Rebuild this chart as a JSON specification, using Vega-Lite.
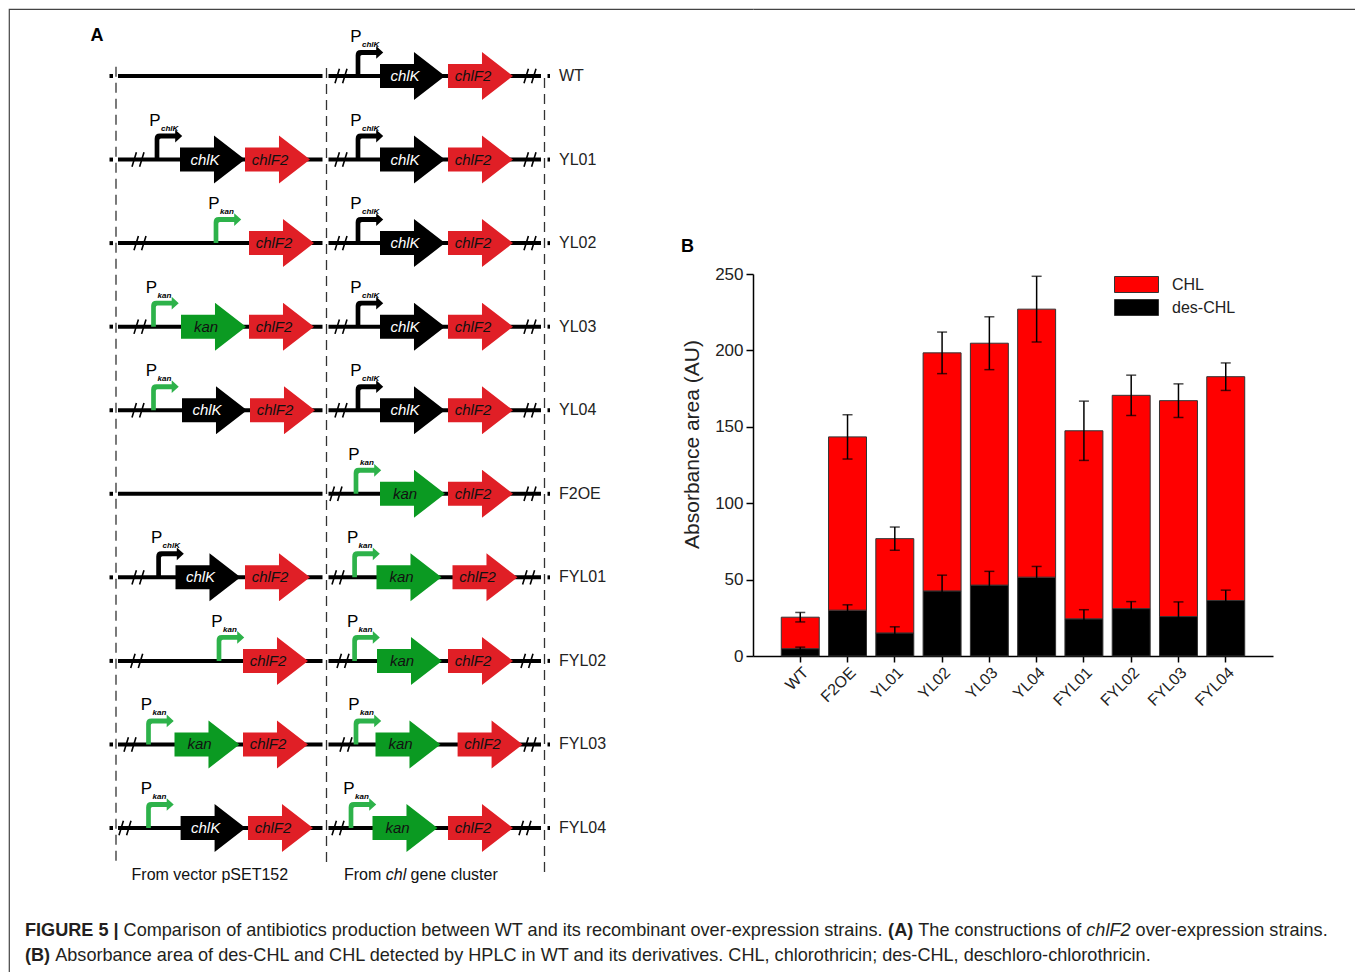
{
  "$schema": "https://vega.github.io/schema/vega-lite/v6.json",
  "padding": {"left": 8, "top": 8, "right": 0, "bottom": 0},
  "autosize": {"type": "pad"},
  "background": "white",
  "config": {"font": "Liberation Sans", "view": {"stroke": null}},
  "bounds": "flush",
  "spacing": 0,
  "datasets": {
    "caption": [
      {"row": 10.232, "x": 16, "t": "FIGURE 5 |", "s": "b"},
      {"row": 10.232, "x": 114.6, "t": "Comparison of antibiotics production between WT and its recombinant over-expression strains.", "s": "n"},
      {"row": 10.232, "x": 879.1, "t": "(A)", "s": "b"},
      {"row": 10.232, "x": 909.3, "t": "The constructions of", "s": "n"},
      {"row": 10.232, "x": 1077.3, "t": "chlF2", "s": "i"},
      {"row": 10.232, "x": 1126.6, "t": "over-expression strains.", "s": "n"},
      {"row": 10.531, "x": 16, "t": "(B)", "s": "b"},
      {"row": 10.531, "x": 46.2, "t": "Absorbance area of des-CHL and CHL detected by HPLC in WT and its derivatives. CHL, chlorothricin; des-CHL, deschloro-chlorothricin.", "s": "n"}
    ],
    "promoters": [
      {"row": 0, "x": [349], "type": ["chlK"]},
      {"row": 1, "x": [148, 349], "type": ["chlK", "chlK"]},
      {"row": 2, "x": [207, 349], "type": ["kan", "chlK"]},
      {"row": 3, "x": [144.5, 349], "type": ["kan", "chlK"]},
      {"row": 4, "x": [144.5, 349], "type": ["kan", "chlK"]},
      {"row": 5, "x": [347], "type": ["kan"]},
      {"row": 6, "x": [149.6, 345.6], "type": ["chlK", "kan"]},
      {"row": 7, "x": [210, 345.6], "type": ["kan", "kan"]},
      {"row": 8, "x": [139.5, 347], "type": ["kan", "kan"]},
      {"row": 9, "x": [139.5, 342], "type": ["kan", "kan"]}
    ],
    "genes": [
      {"row": 0, "x": [371, 439], "gene": ["chlK", "chlF2"]},
      {"row": 1, "x": [171, 236, 371, 439], "gene": ["chlK", "chlF2", "chlK", "chlF2"]},
      {"row": 2, "x": [240, 371, 439], "gene": ["chlF2", "chlK", "chlF2"]},
      {"row": 3, "x": [172, 240, 371, 439], "gene": ["kan", "chlF2", "chlK", "chlF2"]},
      {"row": 4, "x": [173, 241, 371, 439], "gene": ["chlK", "chlF2", "chlK", "chlF2"]},
      {"row": 5, "x": [371, 439], "gene": ["kan", "chlF2"]},
      {"row": 6, "x": [166.5, 236, 367.5, 443.5], "gene": ["chlK", "chlF2", "kan", "chlF2"]},
      {"row": 7, "x": [234, 368, 439], "gene": ["chlF2", "kan", "chlF2"]},
      {"row": 8, "x": [165.5, 234, 366.5, 448.6], "gene": ["kan", "chlF2", "kan", "chlF2"]},
      {"row": 9, "x": [171.6, 239, 363.5, 439], "gene": ["chlK", "chlF2", "kan", "chlF2"]}
    ]
  },
  "hconcat": [
    {
      "width": 744,
      "height": 964,
      "view": {"stroke": "#444", "strokeWidth": 1.2, "strokeDash": [744, 1708, 964, 0]},
      "resolve": {"scale": {"fill": "independent", "color": "independent"}},
      "encoding": {
        "x": {"field": "x", "type": "quantitative", "scale": {"domain": [0, 744], "nice": false, "zero": false}, "axis": null},
        "y": {"field": "row", "type": "quantitative", "scale": {"domain": [-0.8018, 10.735], "nice": false, "zero": false, "reverse": true}, "axis": null}
      },
      "layer": [
        {
          "data": {"values": [
            {"x": 107, "row": -0.112, "row2": 9.442},
            {"x": 317.5, "row": -0.096, "row2": 9.419},
            {"x": 535.5, "row": 0.024, "row2": 9.587}
          ]},
          "mark": {"type": "rule", "stroke": "#333", "strokeWidth": 1.3, "strokeDash": [10, 6]},
          "encoding": {"y2": {"field": "row2"}}
        },
        {
          "data": {"values": [
            {"row": 0, "x": [100.5, 109, 319.5, 538.5], "x2": [104, 313.5, 532, 541]},
            {"row": 1, "x": [100.5, 109, 319.5, 538.5], "x2": [104, 313.5, 532, 541]},
            {"row": 2, "x": [100.5, 109, 319.5, 538.5], "x2": [104, 313.5, 532, 541]},
            {"row": 3, "x": [100.5, 109, 319.5, 538.5], "x2": [104, 313.5, 532, 541]},
            {"row": 4, "x": [100.5, 109, 319.5, 538.5], "x2": [104, 313.5, 532, 541]},
            {"row": 5, "x": [100.5, 109, 319.5, 538.5], "x2": [104, 313.5, 532, 541]},
            {"row": 6, "x": [100.5, 109, 319.5, 538.5], "x2": [104, 313.5, 532, 541]},
            {"row": 7, "x": [100.5, 109, 319.5, 538.5], "x2": [104, 313.5, 532, 541]},
            {"row": 8, "x": [100.5, 109, 319.5, 538.5], "x2": [104, 313.5, 532, 541]},
            {"row": 9, "x": [100.5, 109, 319.5, 538.5], "x2": [104, 313.5, 532, 541]}
          ]},
          "transform": [{"flatten": ["x", "x2"]}],
          "mark": {"type": "rule", "stroke": "#000", "strokeWidth": 4, "strokeCap": "butt"},
          "encoding": {"x2": {"field": "x2"}}
        },
        {
          "data": {"values": [
            {"row": 0, "x": [332, 521]},
            {"row": 1, "x": [129, 332, 521]},
            {"row": 2, "x": [131, 332, 521]},
            {"row": 3, "x": [131, 332, 521]},
            {"row": 4, "x": [129, 332, 521]},
            {"row": 5, "x": [327, 521]},
            {"row": 6, "x": [129, 329, 519.6]},
            {"row": 7, "x": [127.7, 334, 518]},
            {"row": 8, "x": [121, 337, 521]},
            {"row": 9, "x": [116, 329, 516]}
          ]},
          "transform": [{"flatten": ["x"]}],
          "mark": {"type": "point", "filled": false, "shape": "M-0.75,0.9L-0.2,-0.9M0.2,0.9L0.75,-0.9", "size": 256, "stroke": "#000", "strokeWidth": 1.6, "opacity": 1}
        },
        {
          "data": {"name": "promoters"},
          "transform": [{"flatten": ["x", "type"]}],
          "mark": {"type": "point", "filled": true, "shape": "M-0.09,0L-0.09,-0.8Q-0.09,-1 0.11,-1L0.7,-1L0.7,-1.15L0.97,-0.905L0.7,-0.66L0.7,-0.81L0.15,-0.81Q0.09,-0.81 0.09,-0.75L0.09,0Z", "size": 2704, "strokeWidth": 0, "opacity": 1},
          "encoding": {"fill": {"field": "type", "type": "nominal", "scale": {"domain": ["chlK", "kan"], "range": ["#000000", "#2db24a"]}, "legend": null}}
        },
        {
          "data": {"name": "promoters"},
          "transform": [{"flatten": ["x", "type"]}],
          "mark": {"type": "text", "text": "P", "fontSize": 17, "dx": -2, "dy": -39, "align": "center", "baseline": "middle", "color": "#000"}
        },
        {
          "data": {"name": "promoters"},
          "transform": [{"flatten": ["x", "type"]}],
          "mark": {"type": "text", "fontSize": 8, "fontStyle": "italic", "fontWeight": "bold", "dx": 4, "dy": -31, "align": "left", "baseline": "middle", "color": "#000"},
          "encoding": {"text": {"field": "type"}}
        },
        {
          "data": {"name": "genes"},
          "transform": [{"flatten": ["x", "gene"]}],
          "mark": {"type": "point", "filled": true, "shape": "M0,-0.25L0.708,-0.25L0.708,-0.5L1.354,0L0.708,0.5L0.708,0.25L0,0.25Z", "size": 9216, "strokeWidth": 0, "opacity": 1},
          "encoding": {"fill": {"field": "gene", "type": "nominal", "scale": {"domain": ["chlK", "chlF2", "kan"], "range": ["#000000", "#e01f26", "#0b9a22"]}, "legend": null}}
        },
        {
          "data": {"name": "genes"},
          "transform": [{"flatten": ["x", "gene"]}],
          "mark": {"type": "text", "fontSize": 15, "fontStyle": "italic", "dx": 25, "align": "center", "baseline": "middle"},
          "encoding": {
            "text": {"field": "gene"},
            "color": {"field": "gene", "type": "nominal", "scale": {"domain": ["chlK", "chlF2", "kan"], "range": ["#ffffff", "#111111", "#111111"]}, "legend": null}
          }
        },
        {
          "data": {"values": [
            {"row": 0, "x": 550, "label": "WT"},
            {"row": 1, "x": 550, "label": "YL01"},
            {"row": 2, "x": 550, "label": "YL02"},
            {"row": 3, "x": 550, "label": "YL03"},
            {"row": 4, "x": 550, "label": "YL04"},
            {"row": 5, "x": 550, "label": "F2OE"},
            {"row": 6, "x": 550, "label": "FYL01"},
            {"row": 7, "x": 550, "label": "FYL02"},
            {"row": 8, "x": 550, "label": "FYL03"},
            {"row": 9, "x": 550, "label": "FYL04"}
          ]},
          "mark": {"type": "text", "fontSize": 16, "align": "left", "baseline": "middle", "color": "#222"},
          "encoding": {"text": {"field": "label"}}
        },
        {
          "data": {"values": [{"row": -0.479, "x": 88, "label": "A"}]},
          "mark": {"type": "text", "fontSize": 18, "fontWeight": "bold", "align": "center", "baseline": "middle", "color": "#000"},
          "encoding": {"text": {"field": "label"}}
        },
        {
          "data": {"values": [
            {"row": 9.562, "x": 122.6, "label": "From vector pSET152"},
            {"row": 9.562, "x": 335, "label": "From"},
            {"row": 9.562, "x": 401.6, "label": "gene cluster"}
          ]},
          "mark": {"type": "text", "fontSize": 16, "align": "left", "baseline": "middle", "color": "#111"},
          "encoding": {"text": {"field": "label"}}
        },
        {
          "data": {"values": [{"row": 9.562, "x": 376.8, "label": "chl"}]},
          "mark": {"type": "text", "fontSize": 16, "fontStyle": "italic", "align": "left", "baseline": "middle", "color": "#111"},
          "encoding": {"text": {"field": "label"}}
        },
        {
          "data": {"name": "caption"},
          "transform": [{"filter": "datum.s === 'b'"}],
          "mark": {"type": "text", "fontSize": 18.1, "fontWeight": "bold", "align": "left", "baseline": "middle", "color": "#231f20"},
          "encoding": {"text": {"field": "t"}}
        },
        {
          "data": {"name": "caption"},
          "transform": [{"filter": "datum.s === 'n'"}],
          "mark": {"type": "text", "fontSize": 18.1, "align": "left", "baseline": "middle", "color": "#231f20"},
          "encoding": {"text": {"field": "t"}}
        },
        {
          "data": {"name": "caption"},
          "transform": [{"filter": "datum.s === 'i'"}],
          "mark": {"type": "text", "fontSize": 18.1, "fontStyle": "italic", "align": "left", "baseline": "middle", "color": "#231f20"},
          "encoding": {"text": {"field": "t"}}
        }
      ]
    },
    {
      "bounds": "flush",
      "spacing": 0,
      "vconcat": [
        {
          "width": 603,
          "height": 265,
          "view": {"stroke": "#444", "strokeWidth": 1.2, "strokeDash": [603, 3000]},
          "data": {"values": [{}]},
          "mark": {"type": "text", "text": ""}
        },
        {
          "width": 520,
          "height": 382,
          "view": {"stroke": null},
          "title": {"text": "B", "anchor": "start", "frame": "group", "dx": -72, "dy": 27, "offset": 18, "fontSize": 18, "fontWeight": "bold", "color": "#000", "baseline": "bottom"},
          "data": {"values": [
            {"strain": "WT", "compound": "des-CHL", "value": 4.8, "sd": 1.0},
            {"strain": "WT", "compound": "CHL", "value": 20.6, "sd": 3.1},
            {"strain": "F2OE", "compound": "des-CHL", "value": 30.0, "sd": 3.5},
            {"strain": "F2OE", "compound": "CHL", "value": 113.4, "sd": 14.5},
            {"strain": "YL01", "compound": "des-CHL", "value": 15.1, "sd": 4.0},
            {"strain": "YL01", "compound": "CHL", "value": 61.7, "sd": 7.6},
            {"strain": "YL02", "compound": "des-CHL", "value": 42.6, "sd": 10.3},
            {"strain": "YL02", "compound": "CHL", "value": 155.8, "sd": 13.6},
            {"strain": "YL03", "compound": "des-CHL", "value": 46.4, "sd": 9.0},
            {"strain": "YL03", "compound": "CHL", "value": 158.3, "sd": 17.3},
            {"strain": "YL04", "compound": "des-CHL", "value": 51.6, "sd": 7.0},
            {"strain": "YL04", "compound": "CHL", "value": 175.4, "sd": 21.5},
            {"strain": "FYL01", "compound": "des-CHL", "value": 24.3, "sd": 6.0},
            {"strain": "FYL01", "compound": "CHL", "value": 123.1, "sd": 19.4},
            {"strain": "FYL02", "compound": "des-CHL", "value": 31.0, "sd": 4.6},
            {"strain": "FYL02", "compound": "CHL", "value": 139.6, "sd": 13.2},
            {"strain": "FYL03", "compound": "des-CHL", "value": 25.8, "sd": 9.6},
            {"strain": "FYL03", "compound": "CHL", "value": 141.3, "sd": 11.0},
            {"strain": "FYL04", "compound": "des-CHL", "value": 36.3, "sd": 6.8},
            {"strain": "FYL04", "compound": "CHL", "value": 146.5, "sd": 9.0}
          ]},
          "transform": [{"stack": "value", "groupby": ["strain"], "sort": [{"field": "compound", "order": "descending"}], "as": ["y0", "y1"]}],
          "encoding": {
            "x": {"field": "strain", "type": "nominal", "sort": null, "title": null,
                  "scale": {"paddingInner": 0.197, "paddingOuter": 0.598},
                  "axis": {"labelAngle": -45, "labelFontSize": 16, "labelColor": "#222", "tickSize": 6, "tickWidth": 1.5, "tickColor": "#000", "domainColor": "#000", "domainWidth": 1.5, "bandPosition": 0.5, "labelPadding": 2}}
          },
          "layer": [
            {
              "mark": {"type": "bar", "stroke": "#333", "strokeWidth": 1},
              "encoding": {
                "y": {"field": "y1", "type": "quantitative", "title": "Absorbance area  (AU)",
                      "scale": {"domain": [0, 250], "nice": false},
                      "axis": {"values": [0, 25, 50, 75, 100, 125, 150, 175, 200, 225, 250],
                               "labelExpr": "datum.value % 50 === 0 ? datum.label : ''",
                               "tickSize": {"condition": {"test": "datum.value % 50 !== 0", "value": 4}, "value": 7},
                               "tickWidth": 1.5, "tickColor": "#000", "domainColor": "#000", "domainWidth": 1.5, "labelFontSize": 17, "labelColor": "#222", "labelPadding": 3, "grid": false, "titleFontSize": 21, "titleFontWeight": "normal", "titleColor": "#222", "titlePadding": 12, "titleY": 170}},
                "y2": {"field": "y0"},
                "color": {"field": "compound", "type": "nominal",
                          "scale": {"domain": ["CHL", "des-CHL"], "range": ["#ff0000", "#000000"]},
                          "legend": {"title": null, "orient": "none", "legendX": 1119, "legendY": 267, "symbolType": "M-2.75,-1L2.75,-1L2.75,1L-2.75,1Z", "symbolSize": 256, "symbolStrokeColor": "#333", "symbolStrokeWidth": 1, "labelFontSize": 16, "labelColor": "#222", "labelOffset": 27, "rowPadding": 2}}
              }
            },
            {
              "mark": {"type": "errorbar", "color": "#000", "ticks": {"size": 10, "thickness": 1.5, "color": "#000"}, "rule": {"strokeWidth": 1.5, "color": "#000"}},
              "encoding": {
                "y": {"field": "y1", "type": "quantitative", "title": "Absorbance area  (AU)"},
                "yError": {"field": "sd"}
              }
            }
          ]
        }
      ]
    }
  ]
}
